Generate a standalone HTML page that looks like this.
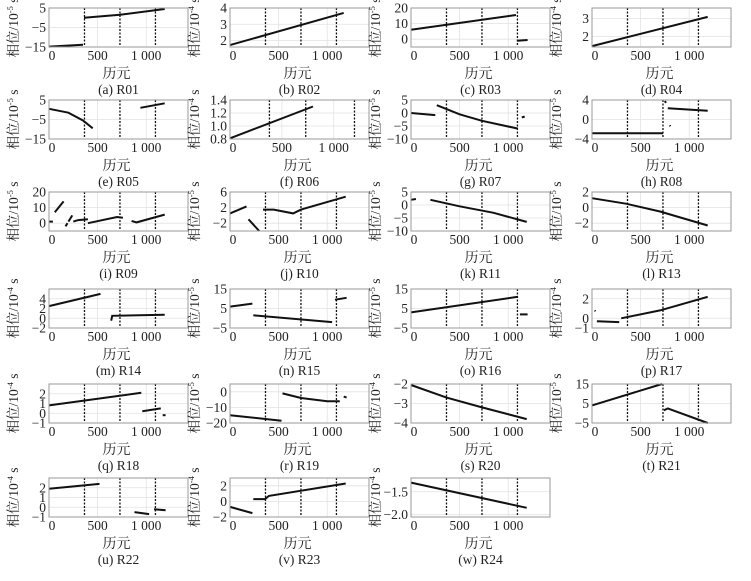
<!DOCTYPE html>
<html><head><meta charset="utf-8"><style>
html,body{margin:0;padding:0;background:#fff;}
svg{display:block;}
</style></head><body>
<svg id="chart" width="751" height="581" viewBox="0 0 751 581" xmlns="http://www.w3.org/2000/svg" font-family="'Liberation Serif', 'Noto Serif CJK SC', serif"></svg>
<script>
// ---- data (epoch, phase) ----
const panelLabels = ["(a) R01","(b) R02","(c) R03","(d) R04","(e) R05","(f) R06","(g) R07","(h) R08","(i) R09","(j) R10","(k) R11","(l) R13","(m) R14","(n) R15","(o) R16","(p) R17","(q) R18","(r) R19","(s) R20","(t) R21","(u) R22","(v) R23","(w) R24"];
const exponents = [-5,-4,-5,-4,-5,-4,-5,-5,-5,-5,-5,-5,-4,-5,-5,-4,-4,-5,-4,-5,-4,-4,-4];
const yRanges = [[-15,5],[1.6,4],[-5,20],[1.4,3.6],[-15,5],[0.8,1.4],[-10,5],[-4,4],[-5,20],[-4,6],[-10,5],[-3,2],[-2,6],[-5,15],[-5,15],[-1,3],[-1,3],[-20,5],[-4,-2],[-5,15],[-1,3],[-2,3],[-2.05,-1.2]];
const yTicks = [[5,-5,-15],[2,3,4],[0,10,20],[2,3],[5,-5,-15],[0.8,1.0,1.2,1.4],[5,0,-5,-10],[4,0,-4],[0,10,20],[6,2,-2],[5,0,-5,-10],[2,0,-2],[4,2,0,-2],[15,5,-5],[15,5,-5],[2,0,-1],[2,1,0,-1],[0,-10,-20],[-2,-3,-4],[15,5,-5],[2,1,0,-1],[2,0,-2],[-1.5,-2.0]];
const yTickDecimals = [0,0,0,0,0,1,0,0,0,0,0,0,0,0,0,0,0,0,0,0,0,0,1];
const xMaxes = [1430,1430,1430,1430,1430,1340,1430,1430,1430,1430,1430,1430,1430,1430,1430,1430,1430,1430,1430,1430,1430,1430,1430];
const xTicks = [0,500,1000];
const xTickLabels = ["0","500","1 000"];
const dashedEpochs = [365,730,1095];
const dashedEpochsR06 = [380,730,1200];
const seriesSegments = [
 [[[0,-14.8],[350,-13.8]],[[360,0],[730,1.5],[1190,4.5]]],
 [[[0,1.72],[1170,3.7]]],
 [[[0,6],[1080,15.5]],[[1090,-1],[1200,-0.5]]],
 [[[0,1.45],[1190,3.1]]],
 [[[0,0.5],[200,-1.5],[350,-5.5],[450,-9.5]],[[940,1],[1190,3.3]]],
 [[[0,0.81],[800,1.3]]],
 [[[0,0],[250,-0.8]],[[265,3],[500,-0.5],[730,-3],[1100,-6]],[[1140,-1.7],[1170,-1.4]]],
 [[[0,-2.8],[730,-2.8]],[[750,3.8],[760,3.4]],[[780,2.3],[1190,1.8]],[[800,-1.2],[806,-1.4]]],
 [[[0,1],[40,1]],[[60,7],[150,14]],[[170,-2],[190,0]],[[200,1],[240,5]],[[250,1],[300,2],[400,2.5]],[[400,0],[700,4],[760,3.5]],[[850,1.5],[900,0.5],[1190,5.5]]],
 [[[0,0.5],[170,2.3]],[[190,-1],[300,-4]],[[340,1.5],[450,1.5],[650,0.5],[730,1.5],[1190,4.8]]],
 [[[0,2],[50,2.3]],[[200,2],[500,-0.5],[850,-3],[1190,-6.5]]],
 [[[0,1.2],[350,0.5],[700,-0.5],[1190,-2.3]]],
 [[[0,2.5],[530,5]],[[640,-0.5],[650,0.5],[1190,0.7]]],
 [[[0,6],[230,7.5]],[[240,1.5],[1050,-2]],[[1080,9.5],[1200,10.5]]],
 [[[0,3],[1100,11]],[[1120,2],[1200,2]]],
 [[[30,0.8],[34,0.7]],[[50,-0.3],[280,-0.4]],[[300,0],[700,0.8],[1190,2.2]]],
 [[[0,0.8],[950,2.1]],[[960,0.2],[1150,0.5]],[[1170,-0.2],[1200,-0.2]]],
 [[[0,-15],[530,-18.5]],[[540,-1],[730,-4],[1000,-6],[1130,-6]],[[1170,-3],[1200,-3.7]]],
 [[[0,-2.05],[365,-2.7],[730,-3.2],[1190,-3.8]]],
 [[[0,4],[720,15]],[[740,1.5],[780,2.5],[1190,-5]]],
 [[[0,1.9],[520,2.4]],[[880,-0.5],[1030,-0.7]],[[1080,-0.2],[1200,-0.3]]],
 [[[0,-0.7],[230,-1.5]],[[240,0.3],[360,0.3],[400,0.7],[1190,2.3]]],
 [[[0,-1.3],[1190,-1.85]]]
];
// ---- layout ----
const colLeft=[49,230,411,592], rowTop=[8,100,192,289,384,478], PW=139, PH=39;
const NS="http://www.w3.org/2000/svg";
const FONT="'Liberation Serif', 'Noto Serif CJK SC', serif";
const svg=document.getElementById('chart');
function mk(tag,attrs,parent){const e=document.createElementNS(NS,tag);for(const k in attrs)e.setAttribute(k,attrs[k]);(parent||svg).appendChild(e);return e;}
function fmt(v,d){let s=Math.abs(v).toFixed(d);return (v<0?"\u2212":"")+s;}
panelLabels.forEach((lab,i)=>{
  const L=colLeft[i%4], T=rowTop[Math.floor(i/4)];
  const [y0,y1]=yRanges[i], xm=xMaxes[i];
  const sx=v=>L+v/xm*PW, sy=v=>T+PH-(v-y0)/(y1-y0)*PH;
  const g=mk('g',{'font-family':FONT,fill:'#222'});
  
  
  xTicks.forEach(t=>{if(t>0){const l=mk('line',{x1:sx(t),x2:sx(t),y1:T,y2:T+PH,stroke:'#e2e2e2','stroke-width':0.8},g);}});
  yTicks[i].forEach(t=>{const l=mk('line',{x1:L,x2:L+PW,y1:sy(t),y2:sy(t),stroke:'#e2e2e2','stroke-width':0.8},g);});
  (i===5?dashedEpochsR06:dashedEpochs).forEach(d=>{const l=mk('line',{x1:sx(d),x2:sx(d),y1:T,y2:T+PH,stroke:'#111','stroke-width':1.3,'stroke-dasharray':'2,1.5'},g);});
  seriesSegments[i].forEach(seg=>{
    const p=mk('polyline',{points:seg.map(q=>sx(q[0]).toFixed(1)+','+sy(q[1]).toFixed(1)).join(' '),fill:'none',stroke:'#111','stroke-width':2},g);
    
    
  });
  const f=mk('rect',{x:L,y:T,width:PW,height:PH,fill:'none',stroke:'#999','stroke-width':1},g);
  
  
  yTicks[i].forEach(t=>{const tx=mk('text',{x:L-3,y:sy(t)+4.5,'text-anchor':'end','font-size':13.5,'font-family':FONT},g);tx.textContent=fmt(t,yTickDecimals[i]);});
  xTicks.forEach((t,k)=>{const tx=mk('text',{x:sx(t)+(t===0?3:0),y:T+PH+13,'text-anchor':'middle','font-size':13.5,'font-family':FONT},g);tx.textContent=xTickLabels[k];});
  const xt=mk('text',{x:L+PW/2-2,y:T+PH+31,'text-anchor':'middle','font-size':14,'font-family':FONT},g);
  xt.textContent='历元';
  
  
  const cp=mk('text',{x:L+PW/2,y:T+PH+47,'text-anchor':'middle','font-size':13.5,'font-family':FONT},g);
  cp.textContent=lab;
  
  
  const yt=mk('text',{x:0,y:0,'text-anchor':'middle','font-size':13.5,'font-family':FONT,transform:`translate(${L-31},${T+PH/2}) rotate(-90)`},g);
  
  
  const a=mk('tspan',{},yt);a.textContent='相位/10';
  const b=mk('tspan',{dy:-5,'font-size':8.5},yt);b.textContent=String(exponents[i]);
  const c=mk('tspan',{dy:5},yt);c.textContent=' s';
});
</script>
</body></html>
